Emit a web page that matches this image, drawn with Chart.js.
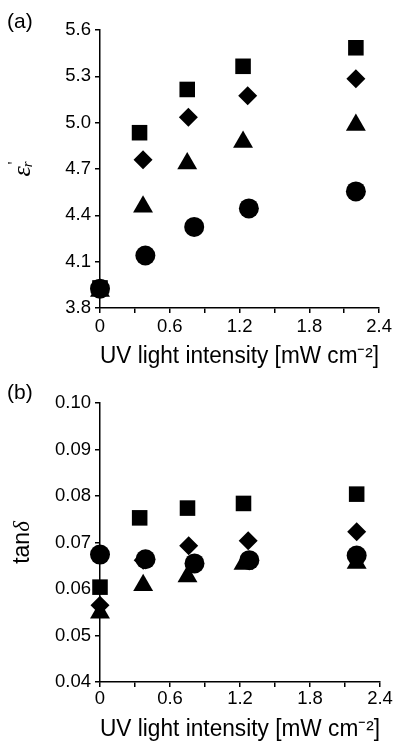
<!DOCTYPE html>
<html>
<head>
<meta charset="utf-8">
<script src="https://cdn.jsdelivr.net/npm/chart.js@4.4.1/dist/chart.umd.min.js"></script>
<style>
  html, body { margin: 0; padding: 0; background: #fff; }
  canvas { display: block; }
</style>
</head>
<body>
<canvas id="chartA" width="395" height="371"></canvas>
<canvas id="chartB" width="395" height="371"></canvas>
<script>
"use strict";

// x positions (UV light intensity, mW cm-2) for each marker series
const xSquare = [0, 0.34, 0.75, 1.23, 2.2];
const xDiamond = [0, 0.37, 0.76, 1.27, 2.2];
const xTriangle = [0, 0.37, 0.75, 1.23, 2.2];
const xCircle = [0, 0.39, 0.81, 1.28, 2.2];

// (a) relative permittivity
const epsSquare = [3.93, 4.935, 5.215, 5.365, 5.485];
const epsDiamond = [3.93, 4.76, 5.035, 5.175, 5.285];
const epsTriangle = [3.91, 4.455, 4.735, 4.875, 4.985];
const epsCircle = [3.925, 4.14, 4.325, 4.445, 4.555];

// (b) loss tangent
const tanSquare = [0.0604, 0.0753, 0.0774, 0.0784, 0.0804];
const tanDiamond = [0.0565, 0.0662, 0.0693, 0.0704, 0.0723];
const tanTriangle = [0.0549, 0.0608, 0.0627, 0.0654, 0.0656];
const tanCircle = [0.0674, 0.0664, 0.0655, 0.0662, 0.0672];

const SANS = '"Liberation Sans", Arial, sans-serif';
const SERIF = '"Liberation Serif", "Times New Roman", serif';

function toPoints(xs, ys) {
  return xs.map((x, i) => ({ x: x, y: ys[i] }));
}

function series(xs, ys, style, radius) {
  return {
    data: toPoints(xs, ys),
    pointStyle: style,
    pointRadius: radius,
    pointHoverRadius: radius,
    backgroundColor: "#000",
    borderColor: "#000",
    borderWidth: 0,
    clip: false,
  };
}

// panel letter and rotated y title (mixed fonts, so drawn by hand)
const panelText = {
  id: "panelText",
  afterDraw(chart, args, opts) {
    const ctx = chart.ctx;
    const area = chart.chartArea;
    ctx.save();
    ctx.fillStyle = "#000";
    ctx.font = "21px " + SANS;
    ctx.textBaseline = "alphabetic";
    ctx.textAlign = "left";
    ctx.fillText(opts.panel, 7, 28);

    ctx.translate(opts.titleX, (area.top + area.bottom) / 2);
    ctx.rotate(-Math.PI / 2);
    ctx.textBaseline = "middle";
    let total = 0;
    opts.runs.forEach((r) => {
      ctx.font = r.font;
      total += ctx.measureText(r.text).width + (r.dx || 0);
    });
    let x = -total / 2;
    opts.runs.forEach((r) => {
      ctx.font = r.font;
      x += r.dx || 0;
      ctx.fillText(r.text, x, r.dy || 0);
      x += ctx.measureText(r.text).width;
    });
    ctx.restore();
  },
};

function makeChart(id, o) {
  const axisLine = {
    display: true,
    drawOnChartArea: false,
    drawTicks: true,
    tickLength: 5,
    color: "#000",
    lineWidth: 1.5,
  };
  const border = { display: true, color: "#000", width: 1.5 };

  return new Chart(document.getElementById(id), {
    type: "scatter",
    data: { datasets: o.datasets },
    plugins: [panelText],
    options: {
      responsive: false,
      animation: false,
      events: [],
      layout: { padding: { top: o.top, right: 15, bottom: 0, left: 0 } },
      plugins: {
        legend: { display: false },
        tooltip: { enabled: false },
        panelText: { panel: o.panel, titleX: 23, runs: o.runs },
      },
      scales: {
        x: {
          type: "linear",
          min: 0,
          max: 2.4,
          grid: axisLine,
          border: border,
          ticks: {
            stepSize: 0.3,
            padding: o.xPad,
            color: "#000",
            font: { family: SANS, size: 18.5 },
            maxRotation: 0,
            autoSkip: false,
            callback: (v, i) => (i % 2 ? "" : v === 0 ? "0" : v.toFixed(1)),
          },
          title: {
            display: true,
            text: "UV light intensity [mW cm\u207B\u00B2]",
            color: "#000",
            font: { family: SANS, size: 23 },
            padding: { top: 0, bottom: o.titlePad },
          },
          afterFit: (s) => {
            s.height = o.xHeight;
          },
        },
        y: {
          type: "linear",
          min: o.yMin,
          max: o.yMax,
          grid: axisLine,
          border: border,
          ticks: {
            stepSize: o.yStep,
            padding: 4,
            color: "#000",
            font: { family: SANS, size: 18.5 },
            callback: (v) => v.toFixed(o.yDigits),
          },
          afterFit: (s) => {
            s.width = 100;
          },
        },
      },
    },
  });
}

makeChart("chartA", {
  panel: "(a)",
  top: 30,
  xHeight: 63,
  xPad: 3,
  titlePad: 1,
  yMin: 3.8,
  yMax: 5.6,
  yStep: 0.3,
  yDigits: 1,
  runs: [
    { text: "\u03B5", font: "italic 26px " + SERIF },
    { text: "r", font: "italic 15px " + SERIF, dy: 5, dx: -1 },
    { text: "'", font: "16px " + SERIF, dy: -8, dx: -3 },
  ],
  datasets: [
    series(xSquare, epsSquare, "rect", 11),
    series(xDiamond, epsDiamond, "rectRot", 9.5),
    series(xTriangle, epsTriangle, "triangle", 11.5),
    series(xCircle, epsCircle, "circle", 10),
  ],
});

makeChart("chartB", {
  panel: "(b)",
  top: 32,
  xHeight: 60,
  xPad: 1,
  titlePad: -1,
  yMin: 0.04,
  yMax: 0.1,
  yStep: 0.01,
  yDigits: 2,
  runs: [
    { text: "tan", font: "23px " + SANS },
    { text: "\u03B4", font: "italic 23px " + SERIF },
  ],
  datasets: [
    series(xSquare, tanSquare, "rect", 11),
    series(xDiamond, tanDiamond, "rectRot", 9.5),
    series(xTriangle, tanTriangle, "triangle", 11.5),
    series(xCircle, tanCircle, "circle", 10),
  ],
});
</script>
</body>
</html>
